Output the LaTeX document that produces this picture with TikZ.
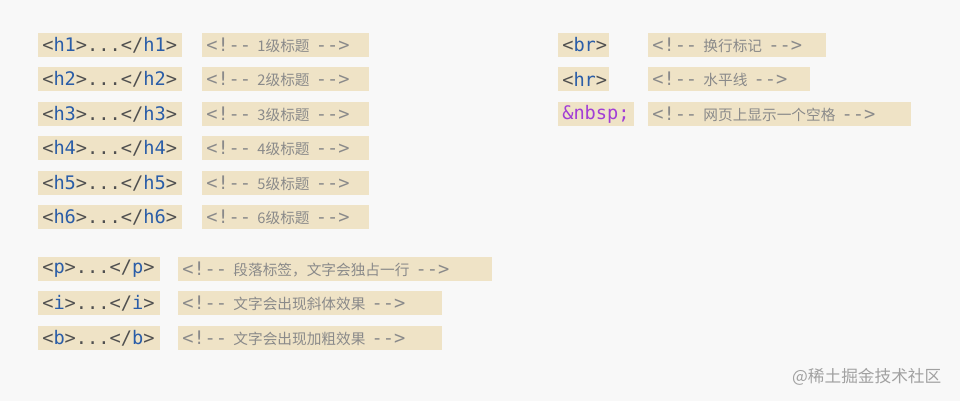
\documentclass[tikz,border=0pt]{standalone}
\usepackage{fontspec}
\setmonofont{DejaVu Sans Mono}
\newfontfamily\cjk{Noto Sans CJK SC}
\definecolor{bgc}{HTML}{F8F8F8}
\definecolor{hl}{HTML}{EFE3C6}
\definecolor{brk}{HTML}{505050}
\definecolor{blu}{HTML}{2A5DA8}
\definecolor{cmt}{HTML}{8A8A8A}
\definecolor{pur}{HTML}{A23ED6}
\newcommand\lt{{\color{brk}<}}
\newcommand\gt{{\color{brk}>}}
\newcommand\tgo[1]{\lt{\color{blu}#1}\gt}
\newcommand\tgc[1]{\lt{\color{brk}/}{\color{blu}#1}\gt}
\newcommand\dts{{\color{brk}...}}
\newcommand\cmm[1]{{\color{cmt}<!--\ {\cjk\fontsize{11}{13}\selectfont #1}\ -->}}
\begin{document}
\begin{tikzpicture}[x=0.75pt,y=-0.75pt,
  hbox/.style={fill=hl,anchor=west,inner xsep=3pt,inner ysep=0pt,minimum height=18pt,
    font=\ttfamily\fontsize{14}{16}\selectfont,align=left}]
\fill[bgc] (0,0) rectangle (960,401);
\useasboundingbox (0,0) rectangle (960,401);
\foreach \n/\y in {1/45,2/79,3/114,4/148,5/183,6/217}{
  \node[hbox,text width=102pt] (c\n) at (38,\y) {\tgo{h\n}\dts\tgc{h\n}};
  \node[hbox,text width=119pt] (m\n) at (202,\y) {\cmm{\n 级标题}};
}
\node[hbox,text width=85pt] (cp) at (38,269) {\tgo{p}\dts\tgc{p}};
\node[hbox,text width=229pt] (mp) at (178,269) {\cmm{段落标签，文字会独占一行}};
\node[hbox,text width=85pt] (ci) at (38,303) {\tgo{i}\dts\tgc{i}};
\node[hbox,text width=192pt] (mi) at (178,303) {\cmm{文字会出现斜体效果}};
\node[hbox,text width=85pt] (cb) at (38,338) {\tgo{b}\dts\tgc{b}};
\node[hbox,text width=192pt] (mb) at (178,338) {\cmm{文字会出现加粗效果}};
\node[hbox,text width=32pt] (cbr) at (558,45) {\tgo{br}};
\node[hbox,text width=127pt] (mbr) at (648,45) {\cmm{换行标记}};
\node[hbox,text width=32pt] (chr) at (558,79) {\tgo{hr}};
\node[hbox,text width=115pt] (mhr) at (648,79) {\cmm{水平线}};
\node[hbox,text width=51pt] (cn) at (558,114) {{\color{pur}\&nbsp;}};
\node[hbox,text width=191pt] (mn) at (648,114) {\cmm{网页上显示一个空格}};
\node[anchor=east,text=cmt!80,font=\cjk\fontsize{12.5}{14}\selectfont] (wm) at (946,377) {@稀土掘金技术社区};
\end{tikzpicture}
\end{document}
